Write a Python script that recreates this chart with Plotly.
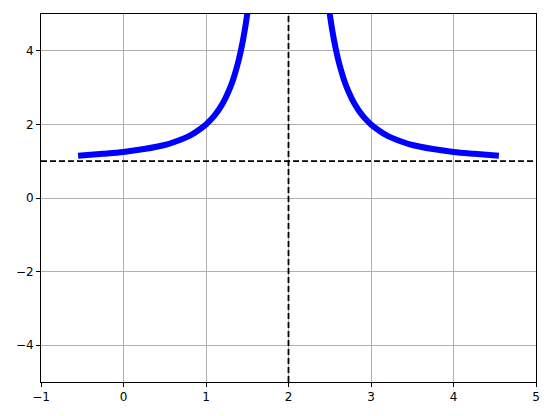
import plotly.graph_objects as go

# Readings of the curve (left and right branches)
x_left = [-0.55, -0.25, 0.0, 0.25, 0.5, 0.65, 0.8, 0.9, 1.0, 1.1, 1.2, 1.3, 1.35, 1.4, 1.45, 1.5, 1.55]
y_left = [1.15, 1.20, 1.25, 1.33, 1.44, 1.55, 1.69, 1.83, 2.0, 2.23, 2.56, 3.04, 3.37, 3.78, 4.31, 5.0, 5.94]
x_right = [2.45, 2.5, 2.55, 2.6, 2.65, 2.7, 2.8, 2.9, 3.0, 3.1, 3.2, 3.35, 3.5, 3.75, 4.0, 4.25, 4.55]
y_right = [5.94, 5.0, 4.31, 3.78, 3.37, 3.04, 2.56, 2.23, 2.0, 1.83, 1.69, 1.55, 1.44, 1.33, 1.25, 1.20, 1.15]

h_asym = 1
v_asym = 2

x_ticks = [-1, 0, 1, 2, 3, 4, 5]
y_ticks = [-4, -2, 0, 2, 4]

fig = go.Figure()
fig.add_trace(go.Scatter(x=x_left, y=y_left, mode="lines",
                         line=dict(color="#0000ff", width=6, shape="spline", smoothing=1),
                         showlegend=False))
fig.add_trace(go.Scatter(x=x_right, y=y_right, mode="lines",
                         line=dict(color="#0000ff", width=6, shape="spline", smoothing=1),
                         showlegend=False))

fig.add_hline(y=h_asym, line=dict(color="black", width=1.8, dash="6px,3px"))
fig.add_vline(x=v_asym, line=dict(color="black", width=1.8, dash="6px,3px"))

axis_common = dict(showgrid=True, gridcolor="#b0b0b0", gridwidth=1,
                   showline=True, linecolor="black", linewidth=1, mirror=True,
                   ticks="outside", ticklen=4, tickcolor="black",
                   zeroline=False, tickfont=dict(family="DejaVu Sans", size=12, color="black"))

fig.update_xaxes(range=[-1, 5], tickvals=x_ticks, **axis_common)
fig.update_yaxes(range=[-5, 5], tickvals=y_ticks, **axis_common)

fig.update_layout(width=542, height=408,
                  margin=dict(l=33, r=14, t=6, b=34),
                  plot_bgcolor="white", paper_bgcolor="white")

fig.write_html("out.html")
